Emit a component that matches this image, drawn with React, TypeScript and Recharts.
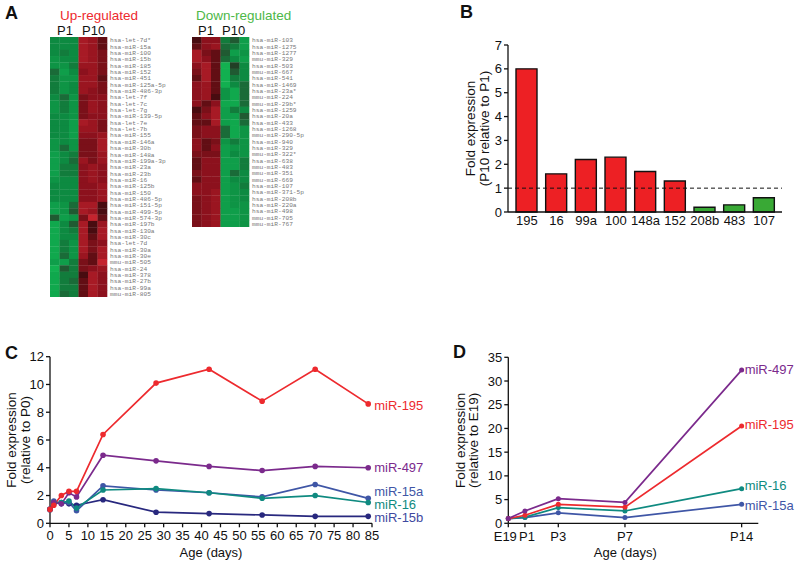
import {
  BarChart, Bar, Cell, LineChart, Line, ScatterChart, Scatter, XAxis, YAxis,
  ReferenceLine, LabelList,
} from 'recharts';

const SANS = '"Liberation Sans", Arial, sans-serif';
const MONO = '"Liberation Mono", monospace';

// Panel A: heat map tones, 1 = darkest and 9 = brightest in each column's colour
const GREEN_RAMP = ['#223f26', '#205a32', '#1a6b38', '#127c3c', '#0d8a41', '#0e9445', '#0f9e4a', '#10a84d', '#12b050'];
const RED_RAMP = ['#480c10', '#620e14', '#7a1019', '#8c111d', '#9a1520', '#a71a25', '#b41f2a', '#c4242e', '#d02a34'];

const UP_LABELS = [
  'hsa-let-7d*', 'hsa-miR-15a', 'hsa-miR-100', 'hsa-miR-15b', 'hsa-miR-185', 'hsa-miR-152', 'hsa-miR-451',
  'hsa-miR-125a-5p', 'hsa-miR-486-3p', 'hsa-let-7f', 'hsa-let-7c', 'hsa-let-7g', 'hsa-miR-139-5p', 'hsa-let-7e',
  'hsa-let-7b', 'hsa-miR-155', 'hsa-miR-146a', 'hsa-miR-30b', 'hsa-miR-148a', 'hsa-miR-199a-3p', 'hsa-miR-23a',
  'hsa-miR-23b', 'hsa-miR-16', 'hsa-miR-125b', 'hsa-miR-150', 'hsa-miR-486-5p', 'hsa-miR-151-5p', 'hsa-miR-499-5p',
  'hsa-miR-574-3p', 'hsa-miR-197b', 'hsa-miR-130a', 'hsa-miR-30c', 'hsa-let-7d', 'hsa-miR-30a', 'hsa-miR-30e',
  'mmu-miR-505', 'hsa-miR-24', 'hsa-miR-378', 'hsa-miR-27b', 'hsa-miR-99a', 'mmu-miR-805',
];
const UP_TONES = [
  [5, 5, 5, 6, 5, 2], [5, 5, 5, 6, 5, 2], [5, 4, 5, 6, 5, 3], [6, 5, 5, 6, 5, 3], [6, 6, 4, 5, 5, 3], [3, 7, 5, 4, 5, 3],
  [4, 6, 6, 5, 5, 2], [4, 6, 5, 5, 5, 3], [4, 6, 5, 5, 4, 3], [5, 3, 6, 3, 4, 4], [6, 4, 6, 3, 5, 4], [6, 4, 6, 3, 5, 4],
  [5, 5, 6, 3, 4, 4], [5, 5, 7, 6, 5, 3], [5, 5, 7, 5, 5, 3], [5, 5, 7, 4, 4, 5], [6, 5, 6, 3, 3, 6], [6, 3, 6, 3, 3, 6],
  [7, 5, 4, 3, 3, 5], [7, 5, 3, 5, 3, 5], [7, 4, 4, 4, 5, 4], [7, 4, 4, 4, 5, 4], [6, 5, 5, 4, 5, 4], [5, 5, 5, 4, 4, 5],
  [5, 5, 5, 4, 4, 5], [5, 5, 5, 4, 4, 5], [7, 6, 3, 6, 6, 1], [7, 6, 2, 6, 5, 1], [2, 7, 6, 3, 8, 2], [8, 5, 2, 6, 1, 5],
  [8, 5, 4, 6, 1, 6], [8, 5, 5, 6, 2, 6], [8, 4, 6, 6, 3, 4], [8, 4, 6, 6, 3, 6], [8, 3, 6, 5, 2, 6], [7, 7, 4, 3, 2, 8],
  [9, 2, 4, 3, 4, 5], [8, 4, 4, 1, 6, 4], [8, 4, 3, 2, 6, 4], [8, 4, 4, 2, 6, 4], [8, 3, 4, 2, 6, 4],
];

const DOWN_LABELS = [
  'hsa-miR-103', 'hsa-miR-1275', 'hsa-miR-1277', 'mmu-miR-329', 'hsa-miR-503', 'mmu-miR-667', 'hsa-miR-541',
  'hsa-miR-1469', 'hsa-miR-23a*', 'mmu-miR-224', 'mmu-miR-29b*', 'hsa-miR-1259', 'hsa-miR-20a', 'hsa-miR-433',
  'hsa-miR-1268', 'mmu-miR-290-5p', 'hsa-miR-940', 'hsa-miR-329', 'mmu-miR-322*', 'hsa-miR-638', 'mmu-miR-483',
  'mmu-miR-351', 'mmu-miR-669', 'hsa-miR-107', 'hsa-miR-371-5p', 'hsa-miR-208b', 'hsa-miR-220a', 'hsa-miR-498',
  'mmu-miR-705', 'mmu-miR-767',
];
const DOWN_TONES = [
  [1, 4, 4, 4, 2, 7], [2, 4, 5, 3, 4, 7], [6, 3, 2, 2, 7, 6], [6, 4, 2, 3, 5, 7], [4, 6, 2, 9, 1, 5], [3, 6, 2, 9, 2, 5],
  [2, 6, 2, 9, 4, 5], [4, 5, 2, 9, 5, 3], [4, 5, 2, 6, 8, 3], [4, 5, 1, 6, 8, 3], [4, 2, 4, 8, 8, 3], [1, 3, 6, 7, 4, 5],
  [2, 4, 6, 7, 7, 2], [2, 2, 6, 7, 8, 3], [3, 4, 4, 3, 8, 6], [3, 4, 4, 3, 8, 6], [4, 2, 3, 6, 4, 6], [4, 2, 4, 7, 6, 6],
  [3, 3, 3, 7, 5, 6], [2, 4, 4, 7, 7, 4], [2, 4, 4, 7, 7, 4], [3, 4, 4, 7, 3, 5], [2, 4, 4, 7, 5, 5], [4, 4, 4, 7, 6, 4],
  [4, 4, 5, 7, 6, 5], [3, 4, 5, 7, 6, 5], [3, 4, 5, 7, 6, 6], [3, 4, 5, 7, 7, 6], [3, 4, 5, 7, 7, 6], [3, 4, 5, 7, 7, 6],
];

// Panel B
const BAR_NAMES = ['195', '16', '99a', '100', '148a', '152', '208b', '483', '107'];
const BAR_VALUES = [6.0, 1.6, 2.2, 2.3, 1.7, 1.3, 0.2, 0.3, 0.6];
const BAR_COLORS = ['#ed2024', '#ed2024', '#ed2024', '#ed2024', '#ed2024', '#ed2024', '#39a935', '#39a935', '#39a935'];

// Panel C
const C_DAYS = [0, 1, 3, 5, 7, 14, 28, 42, 56, 70, 84];
const C_TICKS = [0, 5, 10, 15, 20, 25, 30, 35, 40, 45, 50, 55, 60, 65, 70, 75, 80, 85];
const C_195 = [1, 1.3, 2, 2.3, 2.3, 6.4, 10.1, 11.1, 8.8, 11.1, 8.6];
const C_497 = [1, 1.5, 1.4, 2.2, 1.9, 4.9, 4.5, 4.1, 3.8, 4.1, 4.0];
const C_15A = [1, 1.6, 1.4, 1.5, 0.9, 2.7, 2.4, 2.2, 1.9, 2.8, 1.8];
const C_16 = [1, 1.5, 1.5, 1.6, 1.1, 2.4, 2.5, 2.2, 1.8, 2.0, 1.5];
const C_15B = [1, 1.4, 1.5, 1.4, 1.3, 1.7, 0.8, 0.7, 0.6, 0.5, 0.5];

// Panel D
const D_DAYS = [0, 1, 3, 7, 14];
const D_NAMES = ['E19', 'P1', 'P3', 'P7', 'P14'];
const D_497 = [1, 2.6, 5.2, 4.4, 32.3];
const D_195 = [1, 1.7, 4.0, 3.4, 20.5];
const D_16 = [1, 1.3, 3.3, 2.6, 7.3];
const D_15A = [1, 1.2, 2.2, 1.2, 4.0];

const RED = '#ed2a2e';
const PURPLE = '#7b2a8c';
const BLUE = '#3f56a6';
const TEAL = '#0f8a80';
const NAVY = '#28287e';

const tickStyle = { fontFamily: SANS, fontSize: 13, fill: '#111' };
const axisLine = { stroke: '#111', strokeWidth: 1.3 };

function buildCells(tones: number[][]) {
  return tones.flatMap((row, r) => row.map((tone, c) => ({ x: c + 0.5, y: r + 0.5, tone })));
}

function Heatmap({ labels, tones, left, top, height, greenFirst }: any) {
  const cellW = 57 / 6;
  const cellH = height / labels.length;
  const ticks = labels.map((_: string, i: number) => i + 0.5);
  const renderCell = (p: any) => {
    const isGreen = greenFirst ? p.payload.x < 3 : p.payload.x > 3;
    const ramp = isGreen ? GREEN_RAMP : RED_RAMP;
    return (
      <rect x={p.cx - cellW / 2} y={p.cy - cellH / 2} width={cellW + 0.3} height={cellH + 0.3} fill={ramp[p.payload.tone - 1]} />
    );
  };
  return (
    <div style={{ position: 'absolute', left, top }}>
      <ScatterChart width={127} height={height} margin={{ top: 0, right: 0, bottom: 0, left: 0 }}>
        <XAxis type="number" dataKey="x" domain={[0, 6]} hide />
        <YAxis
          type="number"
          dataKey="y"
          orientation="right"
          reversed
          domain={[0, labels.length]}
          ticks={ticks}
          interval={0}
          width={70}
          axisLine={false}
          tickLine={false}
          tickMargin={-3}
          tickFormatter={(v: number) => labels[Math.floor(v)]}
          tick={{ fontFamily: MONO, fontSize: 6.2, fill: '#777', textAnchor: 'start' }}
        />
        <Scatter data={buildCells(tones)} shape={renderCell} isAnimationActive={false} />
      </ScatterChart>
    </div>
  );
}

function Caption({ x, y, size = 13, color = '#111', bold = false, children }: any) {
  return (
    <div style={{
      position: 'absolute', left: x, top: y - 10, height: 20, lineHeight: '20px', whiteSpace: 'nowrap',
      fontFamily: SANS, fontSize: size, color, fontWeight: bold ? 700 : 400,
    }}>
      {children}
    </div>
  );
}

// two line rotated y axis title
function YTitle({ viewBox, at, lines }: any) {
  const cy = viewBox.y + viewBox.height / 2;
  return (
    <text transform={`translate(${at},${cy}) rotate(-90)`} textAnchor="middle" fontFamily={SANS} fontSize={13.5} fill="#111">
      {lines.map((line: string, i: number) => (
        <tspan key={line} x={0} dy={i === 0 ? 0 : 13.5}>{line}</tspan>
      ))}
    </text>
  );
}

// E19 and P1 sit close together, so panel D nudges them apart
function dTick(p: any) {
  const name = D_NAMES[D_DAYS.indexOf(p.payload.value)];
  const shift = name === 'E19' ? -3 : name === 'P1' ? 2 : 0;
  return (
    <text x={p.x + shift} y={p.y + 12} textAnchor="middle" fontFamily={SANS} fontSize={13} fill="#111">{name}</text>
  );
}

function endLabel(text: string, color: string, count: number, dy: number, dx: number) {
  return (p: any) => {
    if (p.index !== count - 1) return null;
    return (
      <text x={p.x + dx} y={p.y + dy} dominantBaseline="central" fontFamily={SANS} fontSize={13} fill={color}>
        {text}
      </text>
    );
  };
}

function series(key: string, color: string, text: string, textColor: string, count: number, dy: number, dx: number, r = 2.8) {
  return (
    <Line
      key={key}
      dataKey={key}
      stroke={color}
      strokeWidth={1.7}
      dot={{ r, fill: color, stroke: color, strokeWidth: 0 }}
      isAnimationActive={false}
    >
      <LabelList dataKey={key} content={endLabel(text, textColor, count, dy, dx)} />
    </Line>
  );
}

const barData = BAR_NAMES.map((name, i) => ({ name, value: BAR_VALUES[i] }));
const cData = C_DAYS.map((day, i) => ({ day, s195: C_195[i], s497: C_497[i], s15a: C_15A[i], s16: C_16[i], s15b: C_15B[i] }));
const dData = D_DAYS.map((day, i) => ({ day, s497: D_497[i], s195: D_195[i], s16: D_16[i], s15a: D_15A[i] }));

export default function App() {
  return (
    <div style={{ position: 'absolute', left: 0, top: 0, width: 800, height: 564, background: '#fff', overflow: 'hidden' }}>
      <Caption x={5} y={13} size={18} bold>A</Caption>
      <Caption x={60} y={16} size={13.5} color="#ed2a2e">Up-regulated</Caption>
      <Caption x={57} y={31}>P1</Caption>
      <Caption x={82} y={31}>P10</Caption>
      <Heatmap labels={UP_LABELS} tones={UP_TONES} left={50} top={37} height={260} greenFirst />

      <Caption x={196} y={16} size={13.5} color="#4db848">Down-regulated</Caption>
      <Caption x={198} y={31}>P1</Caption>
      <Caption x={222} y={31}>P10</Caption>
      <Heatmap labels={DOWN_LABELS} tones={DOWN_TONES} left={192} top={37} height={190} greenFirst={false} />

      <Caption x={460} y={12} size={18} bold>B</Caption>
      <div style={{ position: 'absolute', left: 450, top: 30 }}>
        <BarChart width={350} height={210} data={barData} margin={{ top: 15, right: 18, bottom: 0, left: 0 }} barSize={21}>
          <XAxis
            dataKey="name"
            height={28}
            padding={{ left: 4, right: 3 }}
            interval={0}
            tickLine={false}
            tickSize={0}
            tickMargin={4}
            axisLine={axisLine}
            tick={tickStyle}
          />
          <YAxis
            width={58}
            domain={[0, 7]}
            ticks={[0, 1, 2, 3, 4, 5, 6, 7]}
            axisLine={axisLine}
            tickLine={axisLine}
            tickSize={4}
            tickMargin={2}
            tick={tickStyle}
            label={<YTitle at={25} lines={['Fold expression', '(P10 relative to P1)']} />}
          />
          <Bar dataKey="value" stroke="#111" strokeWidth={1.4} isAnimationActive={false}>
            {BAR_NAMES.map((name, i) => <Cell key={name} fill={BAR_COLORS[i]} />)}
          </Bar>
          <ReferenceLine y={1} stroke="#111" strokeWidth={1} strokeDasharray="4 3" />
        </BarChart>
      </div>

      <Caption x={5} y={353} size={18} bold>C</Caption>
      <div style={{ position: 'absolute', left: 0, top: 345 }}>
        <LineChart width={440} height={219} data={cData} margin={{ top: 11.7, right: 68, bottom: 0, left: 0 }}>
          <XAxis
            dataKey="day"
            type="number"
            domain={[0, 85]}
            ticks={C_TICKS}
            interval={0}
            height={40.7}
            axisLine={axisLine}
            tickLine={axisLine}
            tickSize={4}
            tickMargin={3}
            tick={tickStyle}
            label={{ value: 'Age (days)', position: 'insideBottom', offset: 7, style: { fontFamily: SANS, fontSize: 13, fill: '#111' } }}
          />
          <YAxis
            width={50}
            domain={[0, 12]}
            ticks={[0, 2, 4, 6, 8, 10, 12]}
            axisLine={axisLine}
            tickLine={axisLine}
            tickSize={4}
            tickMargin={2}
            tick={tickStyle}
            label={<YTitle at={16} lines={['Fold expression', '(relative to P0)']} />}
          />
          {series('s15b', NAVY, 'miR-15b', '#3f49a0', 11, 1, 6)}
          {series('s15a', BLUE, 'miR-15a', BLUE, 11, -7, 6)}
          {series('s16', TEAL, 'miR-16', TEAL, 11, 2, 6)}
          {series('s497', PURPLE, 'miR-497', PURPLE, 11, 0, 6)}
          {series('s195', RED, 'miR-195', RED, 11, 2, 6)}
        </LineChart>
      </div>

      <Caption x={453} y={352} size={18} bold>D</Caption>
      <div style={{ position: 'absolute', left: 450, top: 345 }}>
        <LineChart width={350} height={219} data={dData} margin={{ top: 12.3, right: 41.7, bottom: 0, left: 0 }}>
          <XAxis
            dataKey="day"
            type="number"
            domain={[0, 15]}
            ticks={D_DAYS}
            interval={0}
            height={40.7}
            axisLine={axisLine}
            tickLine={axisLine}
            tickSize={4}
            tick={dTick}
            label={{ value: 'Age (days)', position: 'insideBottom', offset: 7, dx: -8, style: { fontFamily: SANS, fontSize: 13, fill: '#111' } }}
          />
          <YAxis
            width={58.3}
            domain={[0, 35]}
            ticks={[0, 5, 10, 15, 20, 25, 30, 35]}
            axisLine={axisLine}
            tickLine={axisLine}
            tickSize={4}
            tickMargin={2}
            tick={tickStyle}
            label={<YTitle at={14.5} lines={['Fold expression', '(relative to E19)']} />}
          />
          {series('s15a', BLUE, 'miR-15a', BLUE, 5, 1, 3, 2.5)}
          {series('s16', TEAL, 'miR-16', TEAL, 5, -3, 3, 2.5)}
          {series('s195', RED, 'miR-195', RED, 5, -2, 3, 2.5)}
          {series('s497', PURPLE, 'miR-497', PURPLE, 5, -1, 3, 2.5)}
        </LineChart>
      </div>
    </div>
  );
}
